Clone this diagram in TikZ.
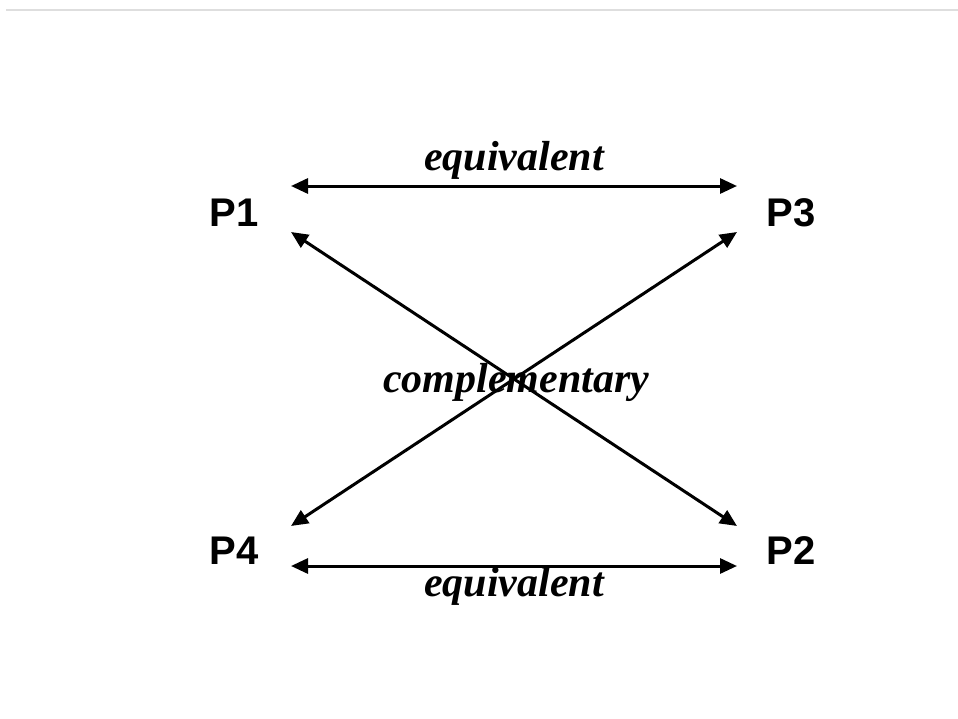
\documentclass[tikz,border=0pt]{standalone}
\usepackage{fontspec}
\setmainfont{Liberation Serif}
\newfontfamily\labsans{Liberation Sans}
\usetikzlibrary{arrows.meta}
\begin{document}
\begin{tikzpicture}[x=1pt,y=-1pt,
  pnode/.style={font=\labsans\bfseries\fontsize{40}{40}\selectfont, inner sep=0pt, anchor=center},
  relabel/.style={font=\bfseries\itshape\fontsize{42}{42}\selectfont, inner sep=0pt, anchor=base},
  biarrow/.style={line width=3pt, {Triangle[length=17pt,width=15pt]}-{Triangle[length=17pt,width=15pt]}}
]
\useasboundingbox (0,0) rectangle (958,718);
\coordinate (rl) at (6,10);
\coordinate (rr) at (958,10);
\draw[line width=1.2pt, color=black!13] (rl) -- (rr);

\node[pnode] (P1) at (234,213) {P1};
\node[pnode] (P3) at (791,213) {P3};
\node[pnode] (P4) at (234,551) {P4};
\node[pnode] (P2) at (791,551) {P2};

\coordinate (P1a) at (291,186);
\coordinate (P3a) at (737,186);
\coordinate (P1b) at (291,232);
\coordinate (P3b) at (737,232);
\coordinate (P4b) at (291,526);
\coordinate (P2b) at (737,526);
\coordinate (P4a) at (291,566);
\coordinate (P2a) at (737,566);

\draw[biarrow] (P1a) -- (P3a);
\draw[biarrow] (P4a) -- (P2a);
\draw[biarrow] (P1b) -- (P2b);
\draw[biarrow] (P4b) -- (P3b);

\node[relabel] (eqtop) at (514,170) {equivalent};
\node[relabel] (comp) at (516,392) {complementary};
\node[relabel] (eqbot) at (514,596) {equivalent};
\end{tikzpicture}
\end{document}
